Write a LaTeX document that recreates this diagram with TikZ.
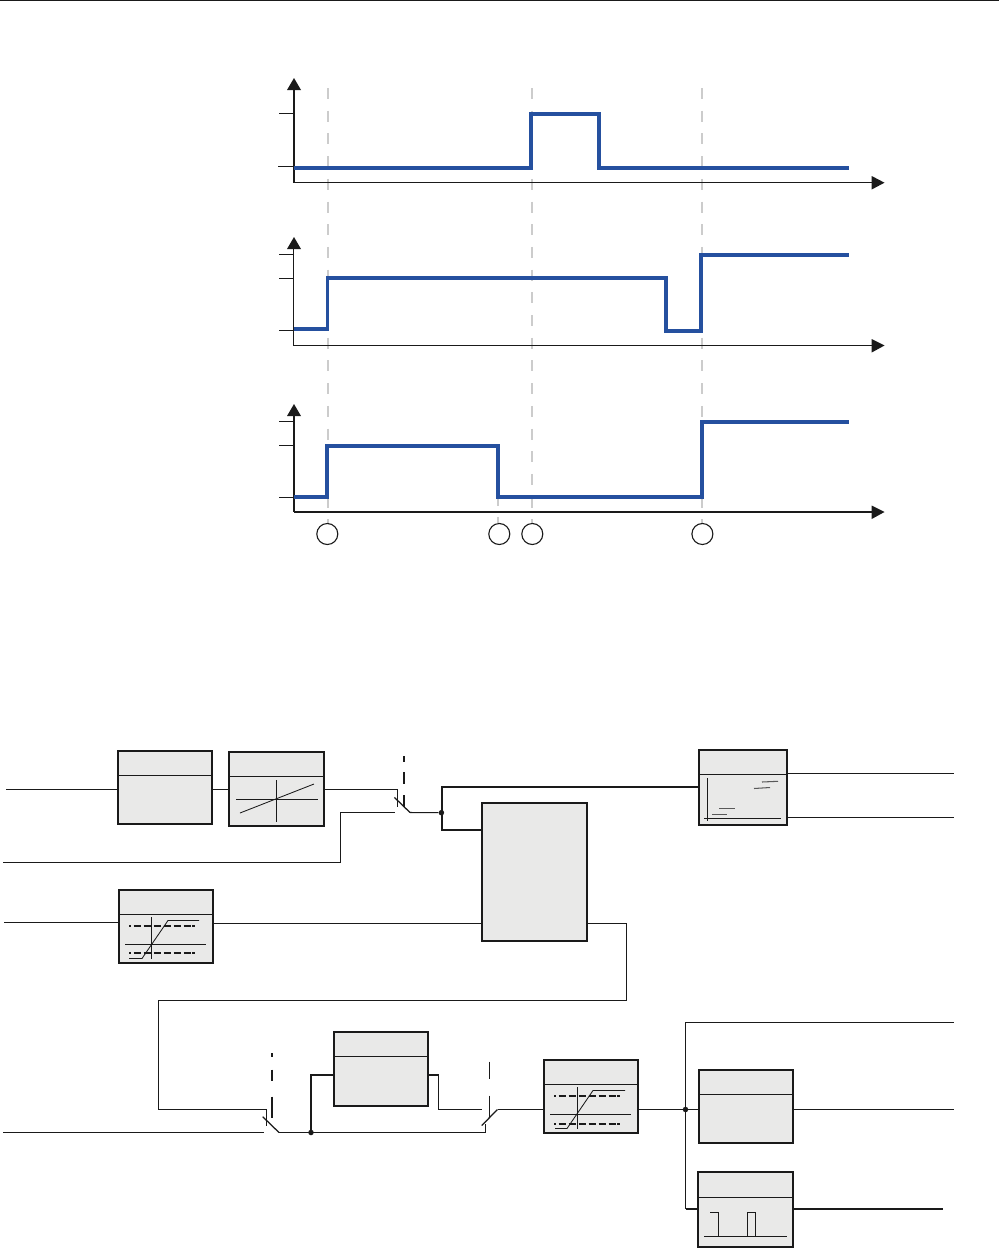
\documentclass[tikz,border=0pt]{standalone}
\usetikzlibrary{arrows.meta}
\definecolor{sigblue}{HTML}{25509F}
\definecolor{blockfill}{HTML}{E9E9E8}
\definecolor{ink}{HTML}{1A1A1A}
\tikzset{
  axisthin/.style={draw=ink,line width=1.15pt},
  axisthick/.style={draw=ink,line width=1.8pt},
  tick/.style={draw=ink,line width=1pt},
  sig/.style={draw=sigblue,line width=3.7pt,miter limit=10},
  guide/.style={draw=black!20,line width=1.4pt,dash pattern=on 11pt off 11.7pt},
  blockbox/.style={draw=ink,fill=blockfill,line width=1.9pt},
  wire/.style={draw=ink,line width=1.05pt},
  wirethick/.style={draw=ink,line width=1.9pt},
  inner/.style={draw=ink,line width=0.85pt},
  limit/.style={draw=ink,line width=1.35pt,dash pattern=on 1.5pt off 3pt on 7pt off 3pt on 7pt off 3pt on 7pt off 3pt on 7pt off 3pt on 7pt off 3pt on 7pt},
  blade/.style={draw=ink,line width=1.25pt},
  tip/.style={fill=ink,draw=none},
  marker/.style={draw=ink,fill=white,line width=1.1pt,circle,minimum size=21pt,inner sep=0pt},
  junction/.style={fill=ink,circle,minimum size=5.5pt,inner sep=0pt,draw=none},
}
\newcommand{\blk}[6]{% name x1 y1 x2 y2 ydiv
  \node[blockbox,minimum width=#4pt-#2pt,minimum height=#5pt-#3pt,inner sep=0pt,outer sep=0pt,anchor=north west] (#1) at (#2,#3) {};
  \draw[inner,line width=1pt] (#2,#6) -- (#4,#6);
}
\begin{document}
\begin{tikzpicture}[x=1pt,y=-1pt]
\useasboundingbox (0,0) rectangle (999,1248);
\draw[draw=ink,line width=1.4pt] (0,0.5) -- (999,0.5);
% guides
\draw[guide] (328,88) -- (328,523);
\draw[guide] (532,88) -- (532,523);
\draw[guide] (702,88) -- (702,523);
\draw[guide,dash pattern=on 9pt off 10.7pt] (498,497) -- (498,523);
% chart 1
\draw[axisthick] (294,88) -- (294,182.5);
\draw[axisthin] (294,182.5) -- (872,182.5);
\fill[tip] (287,90) -- (301,90) -- (294,78) -- cycle;
\fill[tip] (871.7,176) -- (871.7,189.5) -- (884.5,182.7) -- cycle;
\draw[tick] (279,113.5) -- (294,113.5);
\draw[tick] (278,166.5) -- (294,166.5);
\draw[sig] (294,168) -- (531,168) -- (531,114) -- (599,114) -- (599,168) -- (849,168);
% chart 2
\draw[axisthin] (293.5,248) -- (293.5,345.5) -- (872,345.5);
\fill[tip] (287,249) -- (301,249) -- (294,237) -- cycle;
\fill[tip] (871.7,339) -- (871.7,352.5) -- (884.5,345.5) -- cycle;
\draw[tick] (279,254.5) -- (294,254.5);
\draw[tick] (279,278.5) -- (294,278.5);
\draw[tick] (279,330.5) -- (294,330.5);
\draw[sig] (294,329) -- (327.6,329) -- (327.6,278) -- (666,278) -- (666,331) -- (701,331) -- (701,255) -- (849,255);
% chart 3
\draw[axisthick] (294,415) -- (294,512);
\draw[axisthick] (294,512) -- (872,512);
\fill[tip] (287,416) -- (301,416) -- (294,404) -- cycle;
\fill[tip] (871.7,505.5) -- (871.7,519) -- (884.5,512) -- cycle;
\draw[tick] (279,421.5) -- (294,421.5);
\draw[tick] (279,445.5) -- (294,445.5);
\draw[tick] (279,497.5) -- (294,497.5);
\draw[sig] (294,496.8) -- (326.8,496.8) -- (326.8,446) -- (498,446) -- (498,496.8) -- (702.3,496.8) -- (702.3,422) -- (849,422);
% markers
\node[marker] (m1) at (327.3,534) {};
\node[marker] (m2) at (499.3,534) {};
\node[marker] (m3) at (532.3,534) {};
\node[marker] (m4) at (702.4,534) {};
% blocks
\blk{b1}{118}{751}{212}{824}{775}
\blk{b2}{229}{752}{324}{826}{776}
\blk{b3}{119}{890}{213}{963}{914}
\blk{b4}{699}{750}{787}{825}{774}
\node[blockbox,minimum width=105pt,minimum height=138pt,inner sep=0pt,outer sep=0pt,anchor=north west] (b5) at (482,803) {};
\blk{b6}{334}{1032}{428}{1106}{1056}
\blk{b7}{544}{1060}{638}{1133}{1084}
\blk{b8}{699}{1070}{793}{1143}{1094}
\blk{b9}{698}{1172}{793}{1247}{1197}
% glyph b2
\draw[inner] (236,799.5) -- (318,799.5);
\draw[inner] (276.5,780) -- (276.5,822);
\draw[inner] (240,813) -- (314,784);
% glyph b3
\draw[inner] (125,944.5) -- (206,944.5);
\draw[inner] (151.5,917) -- (151.5,959);
\draw[inner] (129,958.5) -- (142,958.5) -- (168,920.5) -- (199,920.5);
\draw[limit] (129,926) -- (200,926);
\draw[limit] (129,953) -- (200,953);
% glyph b7
\draw[inner] (550,1114.5) -- (631,1114.5);
\draw[inner] (577.5,1087) -- (577.5,1129);
\draw[inner] (555,1128.5) -- (567,1128.5) -- (593,1090.5) -- (625,1090.5);
\draw[limit] (554,1096) -- (626,1096);
\draw[limit] (554,1124) -- (626,1124);
% glyph b4
\draw[inner] (707.5,778) -- (707.5,821);
\draw[inner] (704,818.5) -- (781,818.5);
\draw[draw=black!65,line width=1.05pt] (712,814.5) -- (727,814.5);
\draw[draw=black!65,line width=1.05pt] (719.3,808.5) -- (735,808.5);
\draw[draw=black!65,line width=1.05pt] (754,788.5) -- (770,787.5);
\draw[draw=black!65,line width=1.05pt] (762,782) -- (778,781.3);
% glyph b9
\draw[inner] (704,1236.5) -- (787,1236.5);
\draw[inner] (710,1212.5) -- (718.5,1212.5) -- (718.5,1236.5);
\draw[inner] (747.5,1236.5) -- (747.5,1212.5) -- (755.5,1212.5) -- (755.5,1236.5);
% free wire ends
\coordinate (in1) at (6,789.5);
\coordinate (in2) at (3,862.5);
\coordinate (in3) at (4,922.5);
\coordinate (in4) at (3,1132.5);
\coordinate (outa) at (954,773.5);
\coordinate (outb) at (954,817.5);
\coordinate (outc) at (954,1022.5);
\coordinate (outd) at (954,1109.5);
\coordinate (oute) at (943,1209);
% switch 1
\coordinate (s1a) at (397.5,806.5);
\coordinate (s1b) at (395,812.5);
\coordinate (s1c) at (410,812.5);
\node[junction] (j1) at (441.4,812.7) {};
\draw[blade] (394.4,797.4) -- (s1c);
\draw[draw=ink,line width=1.9pt,dash pattern=on 6pt off 10pt on 12pt off 11pt on 12pt] (404,756) -- (404,807);
% switch 2
\coordinate (s2a) at (266.5,1126);
\coordinate (s2b) at (264,1132.5);
\coordinate (s2c) at (279,1132.5);
\node[junction] (j2) at (311,1132.5) {};
\draw[blade] (262.7,1116.7) -- (s2c);
\draw[draw=ink,line width=1.9pt,dash pattern=on 3.5pt off 13pt on 11pt off 16pt on 21pt] (272,1053) -- (272,1118);
% switch 3
\coordinate (s3a) at (482,1109.5);
\coordinate (s3b) at (485.5,1124);
\coordinate (s3c) at (497.5,1109.5);
\draw[blade] (481.7,1125.5) -- (s3c);
\draw[draw=ink,line width=1.05pt,dash pattern=on 17pt off 17pt on 22pt] (489.5,1061.5) -- (489.5,1118);
% top wires
\draw[wire] (in1) -- (b1.west |- in1);
\draw[wire] (b1.east |- in1) -- (b2.west |- in1);
\draw[wire] (b2.east |- in1) -| (s1a);
\draw[wire] (in2) -| (340.5,812.5) -- (s1b);
\draw[wire] (s1c) -- (j1);
\draw[wirethick] (j1.center) ++(1,0) |- (b4.west |- 0,787);
\draw[wirethick] (j1.center) ++(1,0) |- (b5.west |- 0,830);
\draw[wire] (in3) -- (b3.west |- in3);
\draw[wire] (b3.east |- 0,923.5) -- (b5.west |- 0,923.5);
\draw[wire] (b4.east |- outa) -- (outa);
\draw[wire] (b4.east |- outb) -- (outb);
% feedback loop into switch 2
\draw[wire] (b5.east |- 0,923.5) -- (626.5,923.5) |- (158.5,1000.5) |- (266.5,1109.5) -- (s2a);
\draw[wire] (in4) -- (s2b);
\draw[wire] (s2c) -- (485.5,1132.5) -- (s3b);
\draw[wirethick] (j2.center) |- (b6.west |- 0,1075);
\draw[wirethick] (b6.east |- 0,1075) -- (438.5,1075);
\draw[wire] (438.5,1075) -- (438.5,1109.5) -- (s3a);
\draw[wire] (s3c) -- (b7.west |- s3c);
\draw[wire] (b7.east |- s3c) -- (b8.west |- s3c);
\node[junction] (j3) at (685.5,1109.5) {};
\draw[wire] (j3) |- (outc);
\draw[wire] (j3) -- (685.5,1209);
\draw[wire] (b8.east |- outd) -- (outd);
\draw[wirethick] (685.5,1209) -- (b9.west |- oute);
\draw[wirethick] (b9.east |- oute) -- (oute);
\end{tikzpicture}
\end{document}
